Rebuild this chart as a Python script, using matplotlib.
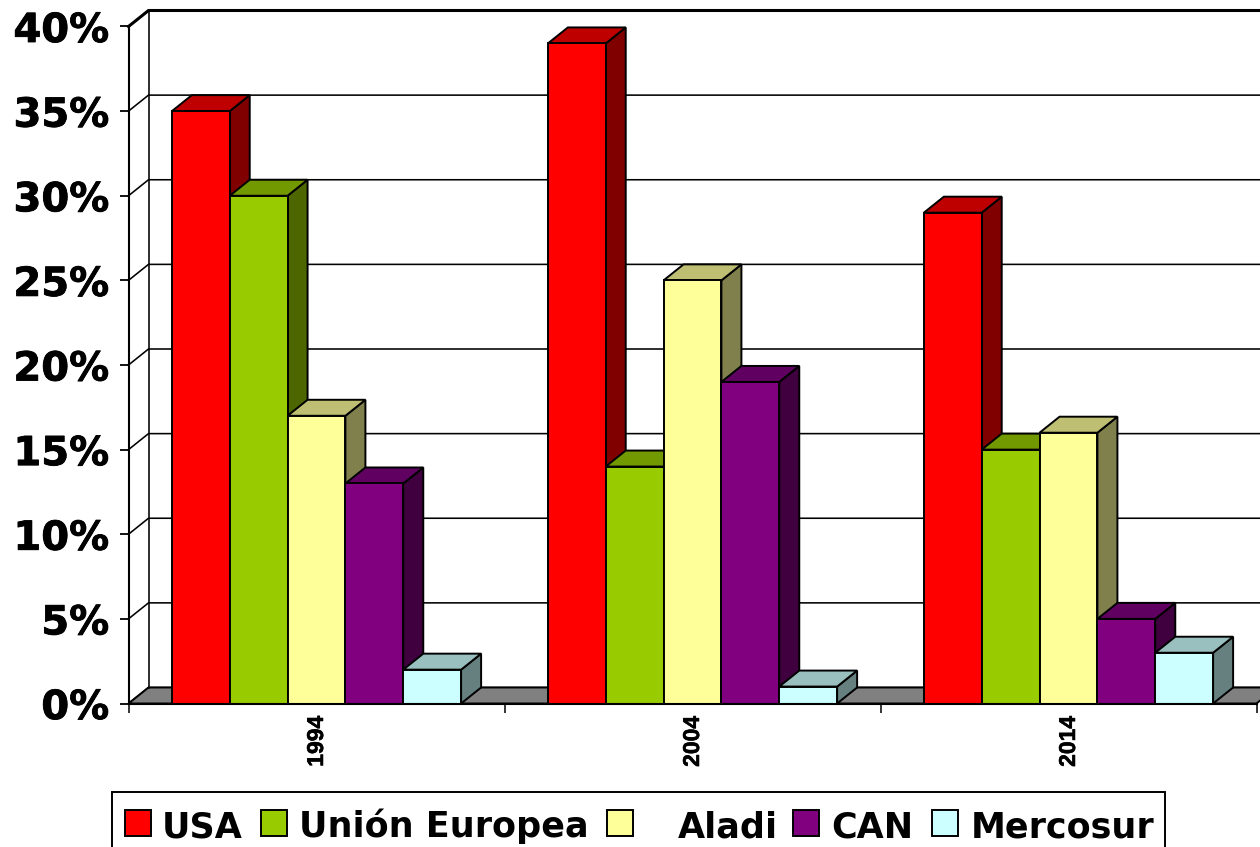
#!/usr/bin/env python3
# 3D-look clustered columns: export share by destination, three years

import matplotlib
matplotlib.use('Agg')
import matplotlib.pyplot as plt
import matplotlib.patheffects as pe
from matplotlib.patches import Polygon, Rectangle

years = ['1994', '2004', '2014']
blocks = ['USA', 'Unión Europea', 'Aladi', 'CAN', 'Mercosur']
usa = [35, 39, 29]
union_europea = [30, 14, 15]
aladi = [17, 25, 16]
can = [13, 19, 5]
mercosur = [2, 1, 3]
y_ticks = [0, 5, 10, 15, 20, 25, 30, 35, 40]

front_colors = ['#FF0000', '#99CC00', '#FFFF99', '#800080', '#CCFFFF']
top_colors = ['#BF0000', '#739900', '#BFBF73', '#600060', '#99BFBF']
side_colors = ['#800000', '#4D6600', '#80804D', '#400040', '#668080']

W, H = 1260, 847
LEFT, RIGHT, BASE, TOP = 128.5, 1256.5, 703.5, 26.5

# depth of the fake 3D box, in pixels, converted to data units below
DEPTH_X_PX = 20
DEPTH_Y_PX = 16
LW = 1.4


def heavier(width):
    return [pe.withStroke(linewidth=width, foreground='black')]


def draw_bar(ax, x, width, value, i, dx, dy):
    ax.add_patch(Polygon([(x + width, 0), (x + width + dx, dy),
                          (x + width + dx, value + dy), (x + width, value)],
                         fc=side_colors[i], ec='black', lw=LW, clip_on=False, zorder=3))
    ax.add_patch(Polygon([(x, value), (x + dx, value + dy),
                          (x + width + dx, value + dy), (x + width, value)],
                         fc=top_colors[i], ec='black', lw=LW, clip_on=False, zorder=3))
    ax.add_patch(Rectangle((x, 0), width, value,
                           fc=front_colors[i], ec='black', lw=LW, clip_on=False, zorder=3))


def main():
    fig = plt.figure(figsize=(W / 100, H / 100), dpi=100, facecolor='white')
    ax = fig.add_axes([LEFT / W, 1 - BASE / H, (RIGHT - LEFT) / W, (BASE - TOP) / H])
    ax.set_xlim(0, len(years))
    ax.set_ylim(0, 40)
    ax.patch.set_visible(False)

    dx = DEPTH_X_PX / ((RIGHT - LEFT) / len(years))
    dy = DEPTH_Y_PX / ((BASE - TOP) / 40)
    n = len(years)

    # floor and walls
    ax.add_patch(Polygon([(0, 0), (dx, dy), (n + dx, dy), (n, 0)],
                         fc='#808080', ec='black', lw=LW, clip_on=False, zorder=1))
    for t in y_ticks:
        lw = 2.2 if t == 40 else 1.15
        ax.plot([0, dx, n + dx], [t, t + dy, t + dy], color='black', lw=lw,
                clip_on=False, zorder=2 if t else 0, solid_joinstyle='miter')
    ax.plot([dx, dx], [dy, 40 + dy], color='black', lw=1.15, clip_on=False, zorder=2)

    # columns, left to right so each one covers the side of its neighbour
    series = [usa, union_europea, aladi, can, mercosur]
    bar_w = 1 / 6.5
    for g in range(n):
        for i, vals in enumerate(series):
            draw_bar(ax, g + 0.75 * bar_w + i * bar_w, bar_w, vals[g], i, dx, dy)

    for side in ['top', 'right']:
        ax.spines[side].set_visible(False)
    for side in ['left', 'bottom']:
        ax.spines[side].set_linewidth(1.5)
        ax.spines[side].set_zorder(4)

    ax.set_yticks(y_ticks)
    ax.set_yticklabels(['{}%'.format(t) for t in y_ticks], fontsize=28.8,
                       fontweight='bold', family='DejaVu Sans')
    for label in ax.get_yticklabels():
        label.set_path_effects(heavier(0.6))
    ax.tick_params(axis='y', length=6.5, width=1.3, pad=7.5)

    ax.set_xticks(range(n + 1))
    ax.set_xticklabels([])
    ax.tick_params(axis='x', which='major', length=6.5, width=1.1)
    ax.set_xticks([g + 0.5 for g in range(n)], minor=True)
    ax.set_xticklabels(years, minor=True, rotation=90, fontsize=16.5, fontweight='bold',
                       family='Liberation Sans')
    for label in ax.get_xticklabels(minor=True):
        label.set_path_effects(heavier(0.4))
    ax.tick_params(axis='x', which='minor', length=0, pad=9)

    # legend box, placed by hand because the entries are not evenly spaced
    fig.add_artist(Rectangle((112 / W, -0.01), (1165 - 112) / W, 0.01 + (847 - 792) / H,
                             transform=fig.transFigure, fc='white', ec='black', lw=1.4))
    swatch_x = [125, 261, 607, 793, 932]
    label_x = [162, 299, 678, 831, 971]
    for i, name in enumerate(blocks):
        fig.add_artist(Rectangle((swatch_x[i] / W, 1 - 836 / H), 26 / W, 26 / H,
                                 transform=fig.transFigure,
                                 fc=front_colors[i], ec='black', lw=1.4))
        fig.text(label_x[i] / W, 1 - 837 / H, name, fontsize=25.2, fontweight='bold',
                 family='DejaVu Sans', va='baseline', ha='left')

    fig.savefig('out.png', dpi=100)


if __name__ == '__main__':
    main()
